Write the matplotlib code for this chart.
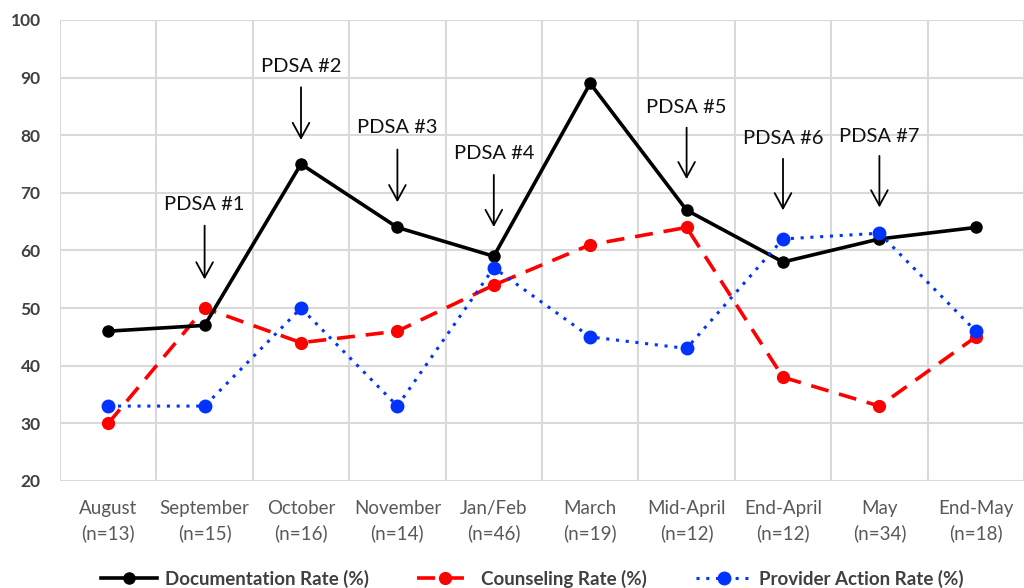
import matplotlib
matplotlib.use('Agg')
import matplotlib.pyplot as plt
import numpy as np

plt.rcParams['font.family'] = ['Lato', 'DejaVu Sans']

# === values ===
MONTHS = ['August', 'September', 'October', 'November', 'Jan/Feb',
          'March', 'Mid-April', 'End-April', 'May', 'End-May']
N_SIZES = [13, 15, 16, 14, 46, 19, 12, 12, 34, 18]
DOC_RATE = [46, 47, 75, 64, 59, 89, 67, 58, 62, 64]
COUNSEL_RATE = [30, 50, 44, 46, 54, 61, 64, 38, 33, 45]
PROVIDER_RATE = [33, 33, 50, 33, 57, 45, 43, 62, 63, 46]

# PDSA cycles: label, category index, label y, arrow top, arrow tip
PDSA_LABELS = ['PDSA #1', 'PDSA #2', 'PDSA #3', 'PDSA #4', 'PDSA #5', 'PDSA #6', 'PDSA #7']
PDSA_IDX = [1, 2, 3, 4, 6, 7, 8]
PDSA_TEXT_Y = [67.9, 91.9, 81.3, 76.8, 84.8, 79.5, 79.7]
PDSA_ARROW_TOP = [64.8, 88.8, 78.0, 73.6, 81.8, 76.4, 76.9]
PDSA_ARROW_TIP = [54.5, 78.7, 67.9, 63.6, 71.9, 66.5, 67.0]

GRID = '#d9d9d9'
TXT = '#595959'

fig = plt.figure(figsize=(10.24, 5.88), dpi=100)
ax = fig.add_axes([0.0586, 0.182, 0.9414, 0.784])

x = np.arange(len(MONTHS))

ax.plot(x, DOC_RATE, color='black', lw=2.6, marker='o', ms=8,
        label='Documentation Rate (%)', zorder=4)
ax.plot(x, COUNSEL_RATE, color='#ff0000', lw=2.6, ls=(0, (5, 3)), marker='o', ms=8.5,
        label='Counseling Rate (%)', zorder=3)
ax.plot(x, PROVIDER_RATE, color='#0033ff', lw=2.2, ls=(0, (1, 2.2)), marker='o', ms=9,
        label='Provider Action Rate (%)', zorder=5)

for lab, i, ty, top, tip in zip(PDSA_LABELS, PDSA_IDX, PDSA_TEXT_Y,
                                PDSA_ARROW_TOP, PDSA_ARROW_TIP):
    ax.text(i, ty, lab, ha='center', va='center', fontsize=14.5, color='#111111')
    ax.annotate('', xy=(i, tip), xytext=(i, top),
                arrowprops=dict(arrowstyle='->,head_length=1.1,head_width=0.6',
                                color='black', lw=1.3))

ax.set_xlim(-0.5, len(MONTHS) - 0.5)
ax.set_ylim(20, 100)
ax.set_yticks(np.arange(20, 101, 10))
ax.set_xticks(x)
ax.set_xticklabels([f'{m}\n(n={n})' for m, n in zip(MONTHS, N_SIZES)],
                   fontsize=13.5, color=TXT, linespacing=1.45)
for lab in ax.get_yticklabels():
    lab.set_fontweight('bold')
    lab.set_fontsize(12.5)
    lab.set_color('#404040')

ax.set_xticks(np.arange(-0.5, len(MONTHS), 1), minor=True)
ax.grid(False)
ax.grid(axis='y', which='major', color=GRID, lw=1.5)
ax.grid(axis='x', which='minor', color=GRID, lw=1.5)
ax.tick_params(which='both', length=0)
ax.tick_params(axis='x', pad=14)
ax.tick_params(axis='y', pad=14)
for s in ax.spines.values():
    s.set_visible(False)
ax.set_axisbelow(True)

leg = fig.legend(loc='lower center', bbox_to_anchor=(0.52, -0.028), ncol=3,
                 frameon=False, columnspacing=2.6, handlelength=3.0, handletextpad=0.4,
                 prop={'weight': 'bold', 'size': 13.5})
for t in leg.get_texts():
    t.set_color('#404040')

fig.savefig('out.png', dpi=100)
